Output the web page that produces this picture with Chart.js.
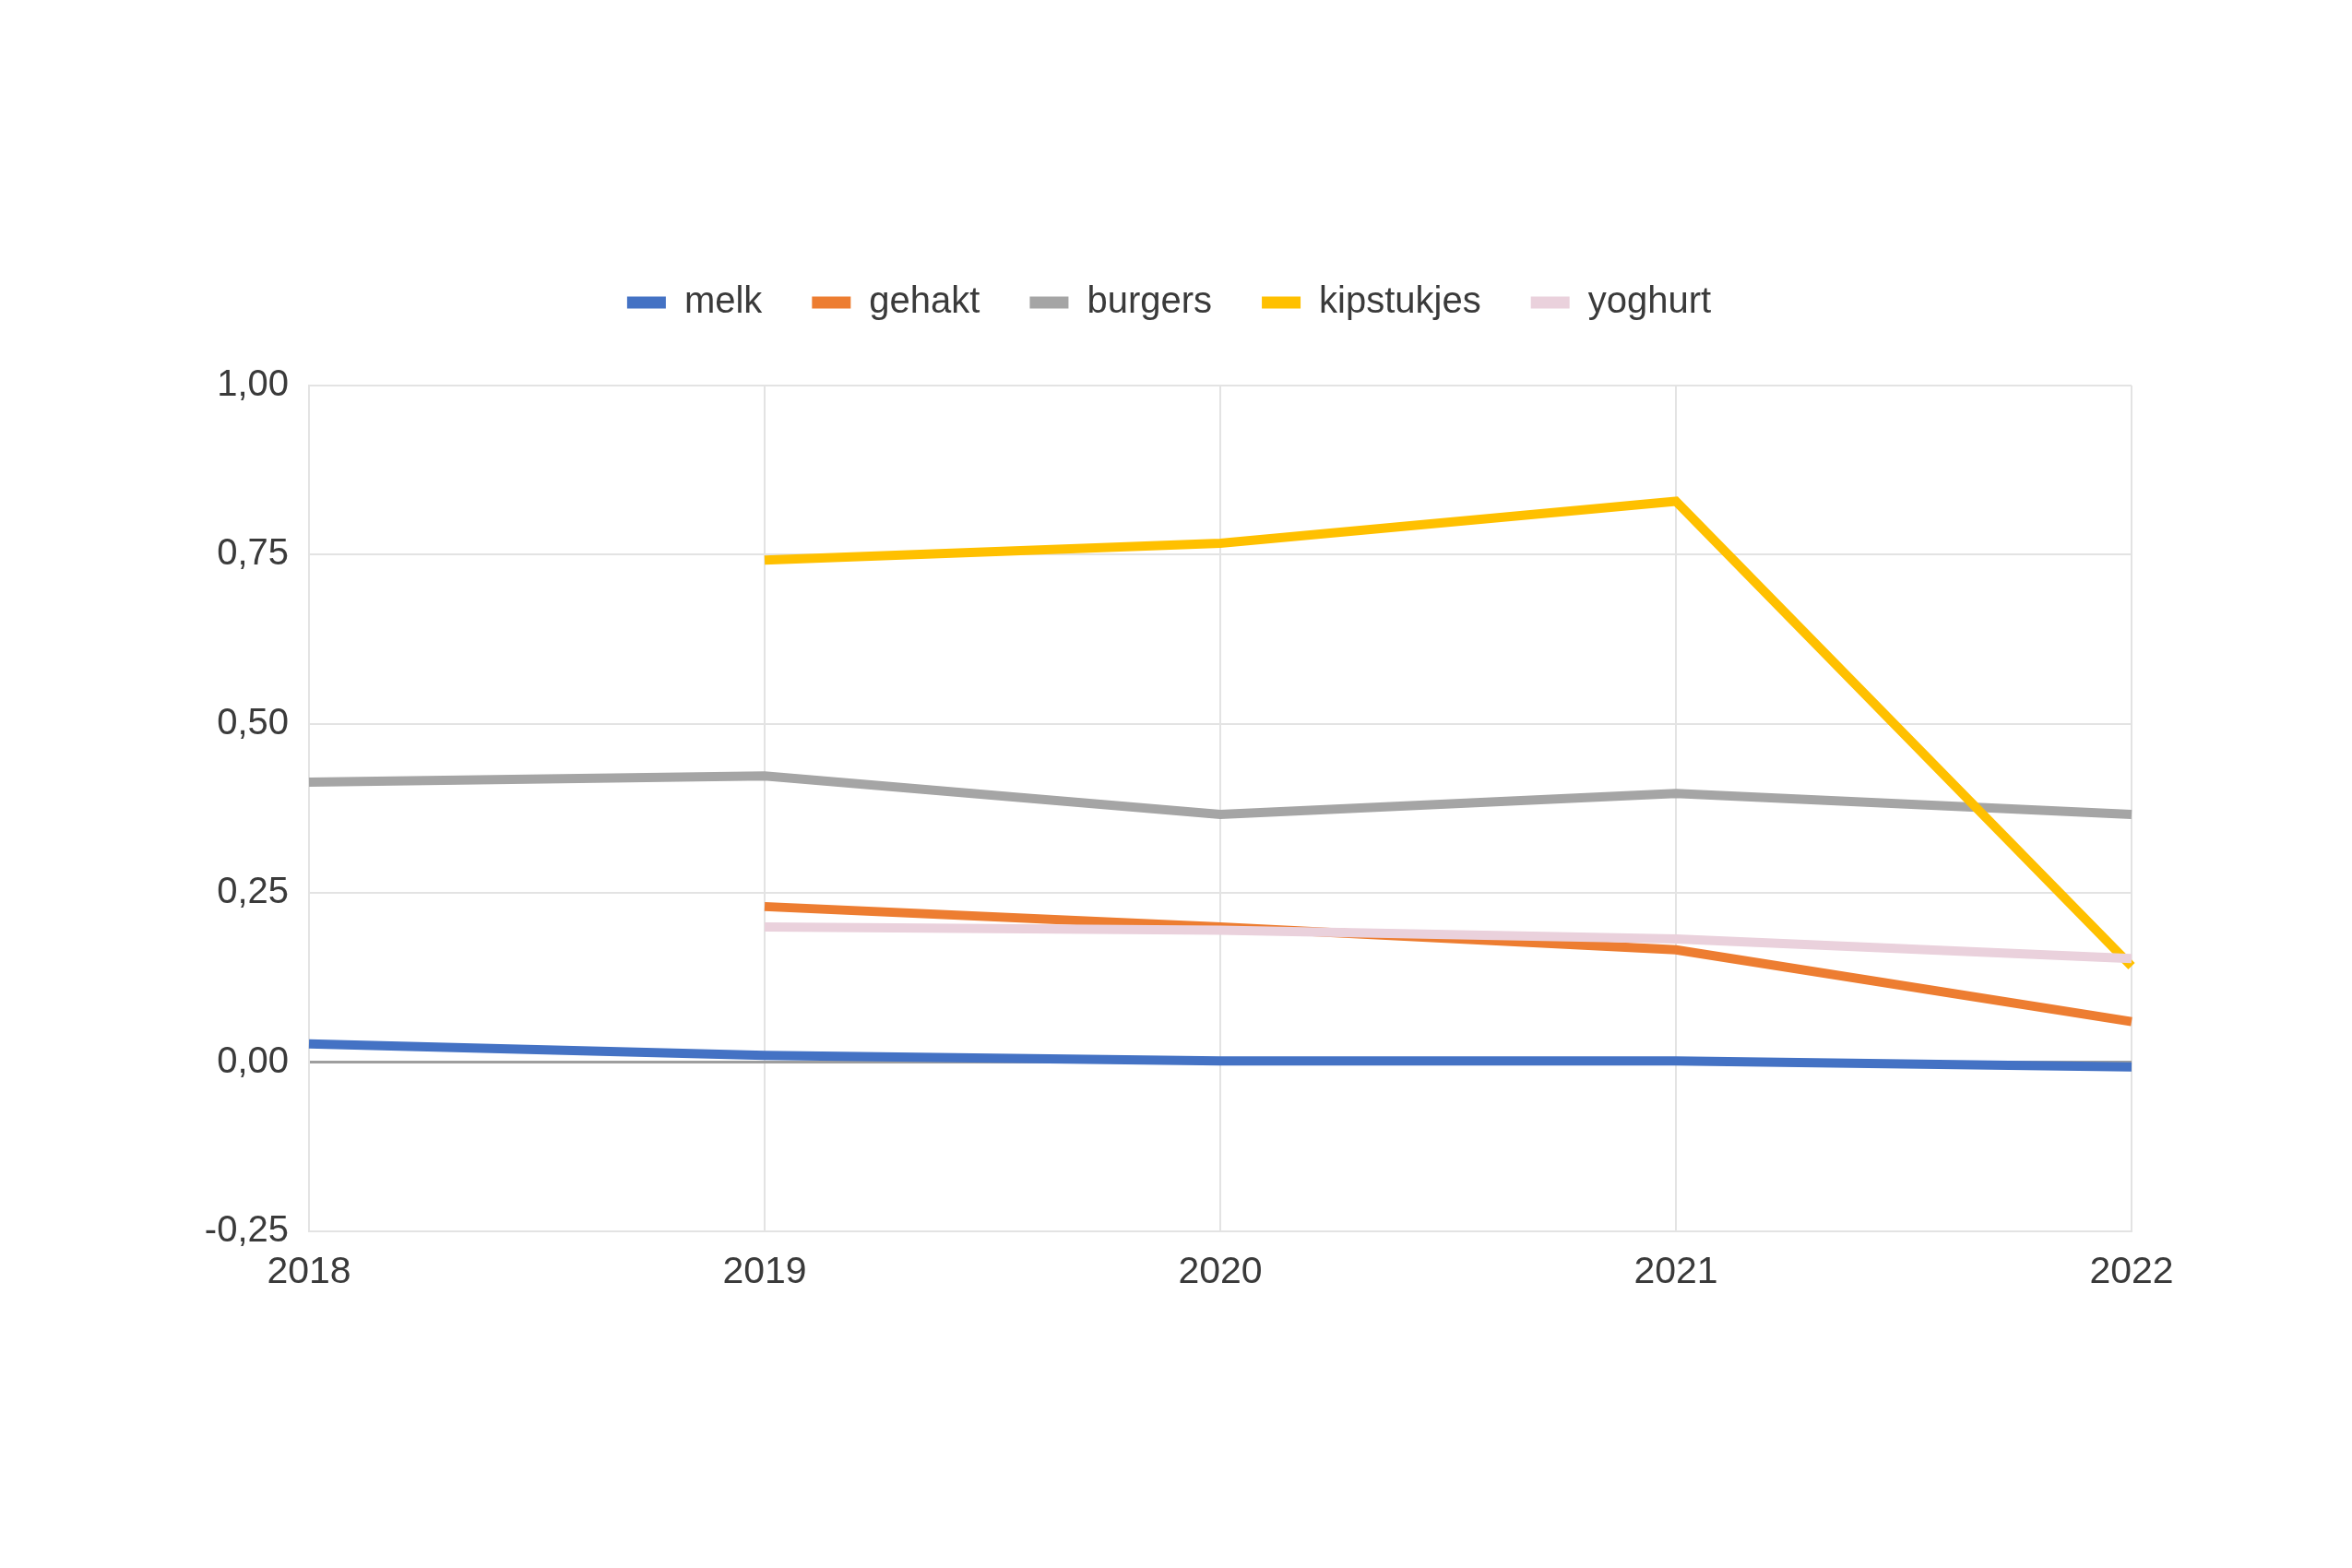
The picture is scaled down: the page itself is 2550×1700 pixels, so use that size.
<!DOCTYPE html>
<html>
<head>
<meta charset="utf-8">
<script src="https://cdn.jsdelivr.net/npm/chart.js@4.4.1/dist/chart.umd.min.js"></script>
<style>
  html, body { margin: 0; padding: 0; background: #ffffff; }
  #wrap { width: 2550px; height: 1700px; }
</style>
</head>
<body>
<div id="wrap"><canvas id="chart" width="2550" height="1700"></canvas></div>
<script>
// years on the x axis
var years = ['2018', '2019', '2020', '2021', '2022'];

// values (null = no value that year)
var melk       = [0.027, 0.010, 0.002, 0.002, -0.007];
var gehakt     = [null, 0.230, 0.200, 0.166, 0.060];
var burgers    = [0.414, 0.423, 0.366, 0.397, 0.366];
var kipstukjes = [null, 0.742, 0.767, 0.829, 0.142];
var yoghurt    = [null, 0.200, 0.195, 0.182, 0.153];

var seriesNames  = ['melk', 'gehakt', 'burgers', 'kipstukjes', 'yoghurt'];
var seriesColors = ['#4472C4', '#ED7D31', '#A5A5A5', '#FFC000', '#EAD1DC'];
var seriesData   = [melk, gehakt, burgers, kipstukjes, yoghurt];

var yMin = -0.25, yMax = 1, yStep = 0.25;

var fontFamily = '"Liberation Sans", Arial, sans-serif';
var textColor = '#3a3a3a';

// legend sits higher and further right than chart.js puts it
var legendPlace = {
    id: 'legendPlace',
    beforeInit: function(chart) {
        var fit = chart.legend.fit;
        chart.legend.fit = function() {
            fit.call(this);
            this.height += 60;
        };
    },
    afterLayout: function(chart) {
        chart.legend.left += 112;
        chart.legend.right += 112;
    }
};

var datasets = [];
for (var i = 0; i < seriesNames.length; i++) {
    datasets.push({
        label: seriesNames[i],
        data: seriesData[i],
        borderColor: seriesColors[i],
        backgroundColor: seriesColors[i],
        borderWidth: 10,
        pointRadius: 0,
        tension: 0,
        order: seriesNames.length - i   // later series on top
    });
}

var ctx = document.getElementById('chart').getContext('2d');
var chart = new Chart(ctx, {
    type: 'line',
    data: { labels: years, datasets: datasets },
    plugins: [legendPlace],
    options: {
        responsive: false,
        animation: false,
        devicePixelRatio: 1,
        layout: { padding: { top: 254, left: 0, right: 239, bottom: 295 } },
        plugins: {
            tooltip: { enabled: false },
            legend: {
                position: 'top',
                labels: {
                    boxWidth: 42,
                    boxHeight: 13,
                    padding: 54,
                    color: textColor,
                    font: { family: fontFamily, size: 40 },
                    sort: function(a, b) { return a.datasetIndex - b.datasetIndex; },
                    generateLabels: function(chart) {
                        var items = Chart.defaults.plugins.legend.labels.generateLabels(chart);
                        items.forEach(function(it) { it.lineWidth = 0; });
                        return items;
                    }
                }
            }
        },
        scales: {
            x: {
                offset: false,
                afterFit: function(scale) { scale.height = 70; },
                grid: { color: '#e3e3e3', lineWidth: 2, drawTicks: false },
                border: { color: '#e3e3e3', width: 2 },
                ticks: {
                    padding: 20,
                    maxRotation: 0,
                    color: textColor,
                    font: { family: fontFamily, size: 41 }
                }
            },
            y: {
                min: yMin,
                max: yMax,
                afterFit: function(scale) { scale.width = 335; },
                grid: {
                    drawTicks: false,
                    color: function(c) { return c.tick && c.tick.value === 0 ? '#9e9e9e' : '#e3e3e3'; },
                    lineWidth: function(c) { return c.tick && c.tick.value === 0 ? 3 : 2; }
                },
                border: { color: '#e3e3e3', width: 2 },
                ticks: {
                    stepSize: yStep,
                    padding: 22,
                    color: textColor,
                    font: { family: fontFamily, size: 40 },
                    callback: function(v) { return Number(v).toFixed(2).replace('.', ','); }
                }
            }
        }
    }
});
</script>
</body>
</html>
